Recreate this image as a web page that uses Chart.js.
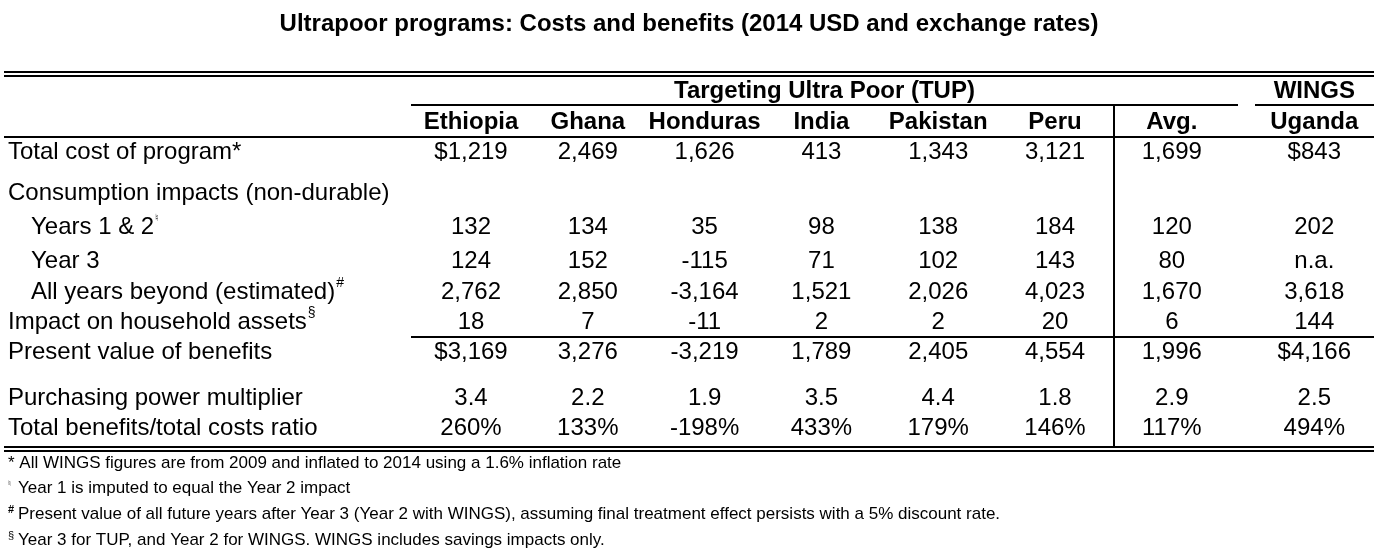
<!DOCTYPE html>
<html><head><meta charset="utf-8">
<script src="https://cdn.jsdelivr.net/npm/chart.js@4"></script>
<style>html,body{margin:0;padding:0;background:#fff}#wrap{width:1387px;height:559px;position:relative}</style>
</head><body><div id="wrap"><canvas id="c"></canvas></div>
<script>
// ---------- data ----------
const title = 'Ultrapoor programs: Costs and benefits (2014 USD and exchange rates)';
const groupTUP = 'Targeting Ultra Poor (TUP)';
const groupWINGS = 'WINGS';
const columns = ['Ethiopia','Ghana','Honduras','India','Pakistan','Peru','Avg.','Uganda'];
const rowLabels = ['Total cost of program*','Consumption impacts (non-durable)','Years 1 & 2','Year 3',
  'All years beyond (estimated)','Impact on household assets','Present value of benefits',
  'Purchasing power multiplier','Total benefits/total costs ratio'];
const rowMarks = ['','','\u266E','','#','\u00A7','','',''];
const totalCost    = [1219, 2469, 1626, 413, 1343, 3121, 1699, 843];
const years12      = [132, 134, 35, 98, 138, 184, 120, 202];
const year3        = [124, 152, -115, 71, 102, 143, 80, null];
const beyond       = [2762, 2850, -3164, 1521, 2026, 4023, 1670, 3618];
const assets       = [18, 7, -11, 2, 2, 20, 6, 144];
const presentValue = [3169, 3276, -3219, 1789, 2405, 4554, 1996, 4166];
const multiplier   = [3.4, 2.2, 1.9, 3.5, 4.4, 1.8, 2.9, 2.5];
const ratio        = [260, 133, -198, 433, 179, 146, 117, 494];
const footnoteMarks = ['*','\u266E','#','\u00A7'];
const footnotes = [
  'All WINGS figures are from 2009 and inflated to 2014 using a 1.6% inflation rate',
  'Year 1 is imputed to equal the Year 2 impact',
  'Present value of all future years after Year 3 (Year 2 with WINGS), assuming final treatment effect persists with a 5% discount rate.',
  'Year 3 for TUP, and Year 2 for WINGS. WINGS includes savings impacts only.'
];

// ---------- layout ----------
const W = 1387, H = 559;
const COL0 = 471, COLW = 116.8, WINGS_GAP = 0.22;
const rowY = [152, 193, 227, 261, 292, 322, 352, 398, 428];
const rowIndent = [0, 0, 1, 1, 1, 0, 0, 0, 0];
const FONT = '"Liberation Sans", Arial, sans-serif';
const BODY = 24, FOOT = 17;
const colX = i => i + (i === 7 ? WINGS_GAP : 0);
const pxToCol = px => (px - COL0) / COLW;

const fmtInt = v => v === null ? 'n.a.' : v.toLocaleString('en-US');
const fmtDollar = (v, i) => (i === 0 || i === 7) ? (v < 0 ? '-$' : '$') + Math.abs(v).toLocaleString('en-US') : fmtInt(v);
const rowsData = [
  {row: 0, vals: totalCost, fmt: fmtDollar},
  {row: 2, vals: years12, fmt: fmtInt},
  {row: 3, vals: year3, fmt: fmtInt},
  {row: 4, vals: beyond, fmt: fmtInt},
  {row: 5, vals: assets, fmt: fmtInt},
  {row: 6, vals: presentValue, fmt: fmtDollar},
  {row: 7, vals: multiplier, fmt: v => v.toFixed(1)},
  {row: 8, vals: ratio, fmt: v => v + '%'}
];

const datasets = rowsData.map(r => ({
  label: rowLabels[r.row],
  data: r.vals.map((v, i) => ({x: colX(i), y: rowY[r.row]})),
  texts: r.vals.map((v, i) => r.fmt(v, i)),
  pointRadius: 0, showLine: false
}));
datasets.push({
  label: 'header',
  data: columns.map((c, i) => ({x: colX(i), y: 122})),
  texts: columns, bold: true, pointRadius: 0, showLine: false
});

const tablePlugin = {
  id: 'table',
  beforeDraw(chart) {
    const c = chart.ctx; c.save(); c.fillStyle = '#fff'; c.fillRect(0, 0, chart.width, chart.height); c.restore();
  },
  afterDatasetsDraw(chart) {
    const ctx = chart.ctx, xs = chart.scales.x, ys = chart.scales.y;
    const X = v => xs.getPixelForValue(v), Y = v => ys.getPixelForValue(v);
    const XP = px => X(pxToCol(px));
    ctx.save();
    ctx.fillStyle = '#000';
    const text = (s, x, y, size, bold, align) => {
      ctx.font = (bold ? 'bold ' : '') + size + 'px ' + FONT;
      ctx.textAlign = align || 'center';
      ctx.textBaseline = 'middle';
      ctx.fillText(s, x, y);
    };
    text(title, XP(689), Y(24), BODY, true);
    text(groupTUP, (XP(411) + XP(1238)) / 2, Y(91), BODY, true);
    text(groupWINGS, X(colX(7)), Y(91), BODY, true);
    chart.data.datasets.forEach((ds, di) => {
      const meta = chart.getDatasetMeta(di);
      meta.data.forEach((pt, i) => text(ds.texts[i], pt.x, pt.y, BODY, !!ds.bold));
    });
    rowLabels.forEach((lab, r) => {
      const x = XP(rowIndent[r] ? 31 : 8);
      text(lab, x, Y(rowY[r]), BODY, false, 'left');
      if (rowMarks[r]) {
        ctx.font = BODY + 'px ' + FONT;
        const w = ctx.measureText(lab).width;
        const small = rowMarks[r] === '\u266E' ? 10 : 14;
        text(rowMarks[r], x + w + 1, Y(rowY[r]) - 9, small, false, 'left');
      }
    });
    const fy = [463, 488, 514, 540];
    footnotes.forEach((f, k) => {
      if (k === 0) {
        text('* ' + f, XP(8), Y(fy[k]), FOOT, false, 'left');
      } else {
        const m = footnoteMarks[k];
        text(m, XP(8), Y(fy[k]) - 4, m === '\u266E' ? 8 : 11, m === '#', 'left');
        text(f, XP(18), Y(fy[k]), FOOT, false, 'left');
      }
    });
    const hline = (x1, x2, y, t) => ctx.fillRect(XP(x1), Y(y), XP(x2) - XP(x1), t || 2);
    hline(4, 1374, 71);
    hline(4, 1374, 75);
    hline(411, 1238, 104);
    hline(1255, 1374, 104);
    hline(4, 1374, 136);
    hline(411, 1374, 336);
    hline(4, 1374, 446);
    hline(4, 1374, 450);
    const vx = XP(1113);
    ctx.fillRect(vx, Y(105), 2, Y(446) - Y(105));
    ctx.restore();
  }
};

new Chart(document.getElementById('c'), {
  type: 'scatter',
  data: {datasets},
  options: {
    responsive: true, maintainAspectRatio: false, animation: false,
    layout: {padding: 0},
    events: [],
    scales: {
      x: {type: 'linear', display: false, min: pxToCol(0), max: pxToCol(W)},
      y: {type: 'linear', display: false, min: 0, max: H, reverse: true}
    },
    plugins: {legend: {display: false}, tooltip: {enabled: false}, title: {display: false}}
  },
  plugins: [tablePlugin]
});
</script></body></html>
